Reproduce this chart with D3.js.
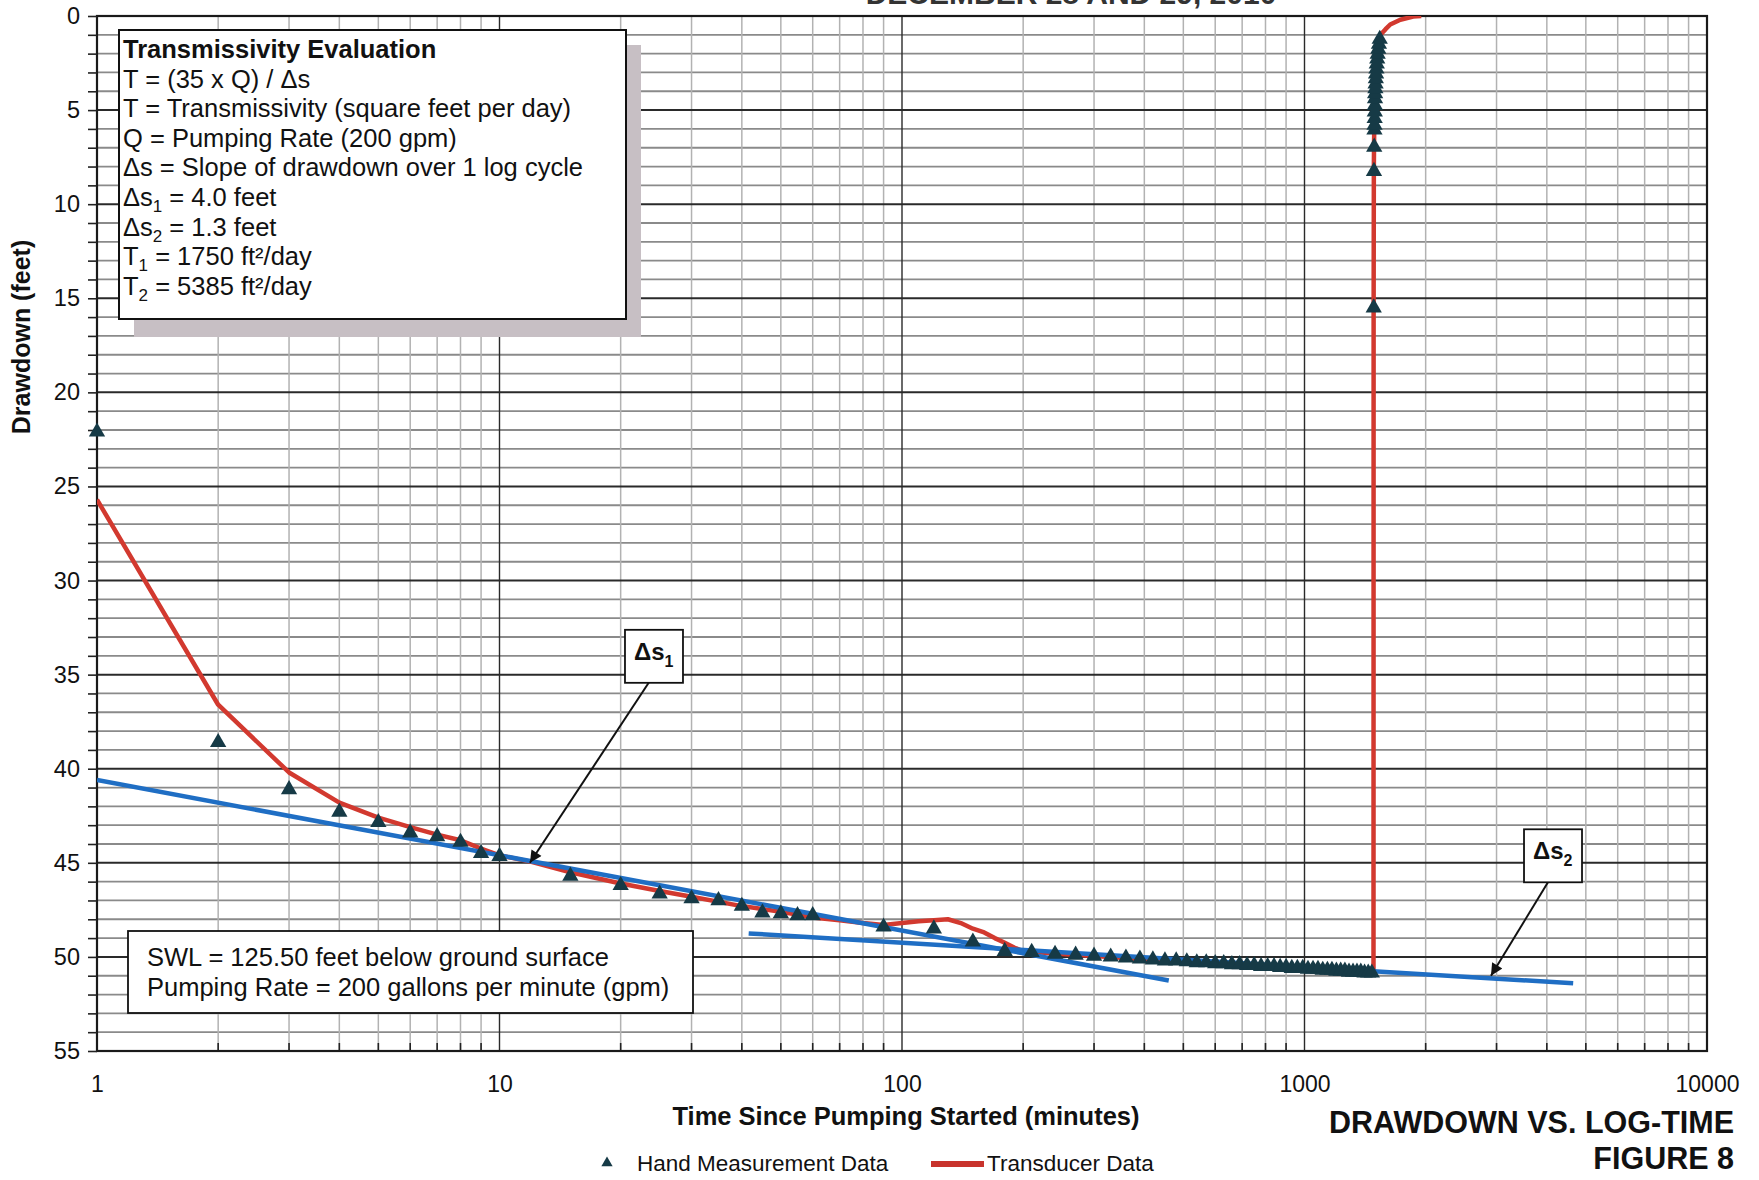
<!DOCTYPE html>
<html>
<head>
<meta charset="utf-8">
<script src="https://cdn.jsdelivr.net/npm/d3@7"></script>
<style>
  body { margin: 0; background: #fff; }
  svg text { font-family: "Liberation Sans", Arial, sans-serif; fill: #111; }
</style>
</head>
<body>
<svg id="chart" width="1759" height="1180"></svg>
<script>
/* Drawdown vs. log-time, semi-log plot drawn with d3 */

// hand measurements: minutes since pumping started, drawdown in feet
const handTime = [1, 2, 3, 4, 5, 6, 7, 8, 9, 10, 15, 20, 25, 30, 35, 40, 45, 50, 55, 60,
  90, 120, 150, 180, 210, 240, 270, 300, 330, 360, 390, 420, 450, 480, 510, 540, 570,
  600, 630, 660, 690, 720, 750, 780, 810, 840, 870, 900, 930, 960, 990, 1020, 1050,
  1080, 1110, 1140, 1170, 1200, 1230, 1260, 1290, 1320, 1350, 1380, 1410, 1440, 1470,
  1486, 1488, 1490, 1492, 1493, 1494, 1495, 1496, 1497, 1498, 1500, 1502, 1504, 1506,
  1509, 1512, 1516, 1520, 1525, 1531, 1538];
const handDrawdown = [22.1, 38.6, 41.1, 42.3, 42.85, 43.4, 43.6, 43.9, 44.5, 44.65, 45.7,
  46.2, 46.65, 46.9, 47.0, 47.3, 47.65, 47.7, 47.8, 47.8,
  48.4, 48.5, 49.2, 49.7, 49.75, 49.85, 49.9, 49.95, 50.0, 50.05, 50.1, 50.15, 50.2,
  50.2, 50.25, 50.3, 50.3, 50.35, 50.35, 50.4, 50.4, 50.45, 50.45, 50.5, 50.5, 50.5,
  50.55, 50.55, 50.6, 50.6, 50.6, 50.65, 50.65, 50.65, 50.7, 50.7, 50.7, 50.75, 50.75,
  50.75, 50.8, 50.8, 50.8, 50.8, 50.85, 50.85, 50.85,
  15.5, 8.25, 6.96, 6.05, 5.79, 5.44, 5.09, 4.74, 4.39, 4.12, 3.86, 3.6, 3.33, 3.07,
  2.81, 2.54, 2.28, 2.02, 1.75, 1.49, 1.23];

// transducer record
const transTime = [1, 2, 3, 4, 5, 6, 7, 8, 9, 10, 12, 15, 20, 25, 30, 40, 50, 60, 70, 80,
  90, 100, 110, 120, 130, 140, 150, 160, 170, 180, 190, 200, 250, 300, 350, 400, 500,
  600, 700, 800, 900, 1000, 1100, 1200, 1300, 1400, 1484, 1485, 1487, 1490, 1500, 1510,
  1525, 1545, 1590, 1633, 1730, 1862, 1950];
const transDrawdown = [25.7, 36.6, 40.2, 41.8, 42.6, 43.1, 43.5, 43.8, 44.25, 44.6, 44.95,
  45.5, 46.1, 46.5, 46.8, 47.3, 47.6, 47.9, 48.05, 48.2, 48.3, 48.2, 48.1, 48.05, 48.0,
  48.2, 48.5, 48.7, 49.0, 49.25, 49.5, 49.7, 49.85, 49.95, 50.05, 50.15, 50.25, 50.35,
  50.4, 50.5, 50.55, 50.6, 50.65, 50.7, 50.75, 50.8, 50.85, 16, 8, 6, 4, 2.8, 1.8, 1.0,
  0.7, 0.45, 0.2, 0.03, 0];

// straight-line fits used for the slope per log cycle
const fit1Time = [1, 460];
const fit1Drawdown = [40.6, 51.25];
const fit2Time = [41.6, 4650];
const fit2Drawdown = [48.75, 51.4];

// axis ticks
const xTicks = [1, 10, 100, 1000, 10000];
const yTicks = [0, 5, 10, 15, 20, 25, 30, 35, 40, 45, 50, 55];

// slope call-outs: box centre and arrow tip in data units
const callouts = [
  { label: "1", boxT: 24.2, boxS: 34.0, tipT: 11.9, tipS: 45.0 },
  { label: "2", boxT: 4144, boxS: 44.6, tipT: 2906, tipS: 51.0 }
];

const svg = d3.select("#chart");
const plot = { left: 97, right: 1707, top: 16, bottom: 1051 };

const x = d3.scaleLog().domain([1, 10000]).range([plot.left, plot.right]);
const y = d3.scaleLinear().domain([0, 55]).range([plot.top, plot.bottom]);

svg.append("defs").append("clipPath").attr("id", "plotClip")
  .append("rect")
  .attr("x", plot.left).attr("y", plot.top)
  .attr("width", plot.right - plot.left).attr("height", plot.bottom - plot.top);

svg.select("defs").append("marker")
  .attr("id", "arrow")
  .attr("viewBox", "0 0 10 10")
  .attr("refX", 10).attr("refY", 5)
  .attr("markerWidth", 15).attr("markerHeight", 12)
  .attr("markerUnits", "userSpaceOnUse")
  .attr("orient", "auto")
  .append("path").attr("d", "M0,0 L10,5 L0,10 z").attr("fill", "#111");

// top title, mostly cut off by the page edge as in the scan
svg.append("text")
  .attr("x", 1071).attr("y", 4)
  .attr("text-anchor", "middle")
  .attr("font-size", 30).attr("font-weight", "bold")
  .style("fill", "#333")
  .text("DECEMBER 28 AND 29, 2010");

// grid
const grid = svg.append("g");
const minorX = [];
[1, 10, 100, 1000].forEach(d => { for (let k = 2; k <= 9; k++) minorX.push(d * k); });

grid.selectAll("line.hminor")
  .data(d3.range(1, 55).filter(v => v % 5 !== 0))
  .join("line")
  .attr("x1", plot.left).attr("x2", plot.right)
  .attr("y1", d => y(d)).attr("y2", d => y(d))
  .attr("stroke", "#8a8a8a").attr("stroke-width", 1.8);

grid.selectAll("line.vminor")
  .data(minorX)
  .join("line")
  .attr("x1", d => x(d)).attr("x2", d => x(d))
  .attr("y1", plot.top).attr("y2", plot.bottom)
  .attr("stroke", "#b2b2b2").attr("stroke-width", 1.5);

grid.selectAll("line.hmajor")
  .data(yTicks.slice(1, -1))
  .join("line")
  .attr("x1", plot.left).attr("x2", plot.right)
  .attr("y1", d => y(d)).attr("y2", d => y(d))
  .attr("stroke", "#2a2a2a").attr("stroke-width", 2);

grid.selectAll("line.vmajor")
  .data(xTicks.slice(1, -1))
  .join("line")
  .attr("x1", d => x(d)).attr("x2", d => x(d))
  .attr("y1", plot.top).attr("y2", plot.bottom)
  .attr("stroke", "#2a2a2a").attr("stroke-width", 1.4);

// minor ticks along the bottom, inside
grid.selectAll("line.xtick")
  .data(minorX)
  .join("line")
  .attr("x1", d => x(d)).attr("x2", d => x(d))
  .attr("y1", plot.bottom - 8).attr("y2", plot.bottom)
  .attr("stroke", "#222").attr("stroke-width", 1.6);

// frame
svg.append("rect")
  .attr("x", plot.left).attr("y", plot.top)
  .attr("width", plot.right - plot.left).attr("height", plot.bottom - plot.top)
  .attr("fill", "none").attr("stroke", "#1a1a1a").attr("stroke-width", 2.2);

// y axis ticks and labels
const yAxis = d3.axisLeft(y)
  .tickValues(d3.range(0, 56))
  .tickSize(9)
  .tickFormat(d => (d % 5 === 0 ? d : ""));
svg.append("g")
  .attr("transform", `translate(${plot.left},0)`)
  .call(yAxis)
  .call(g => g.select(".domain").remove())
  .call(g => g.selectAll(".tick line").attr("stroke", "#222").attr("stroke-width", 1.6))
  .call(g => g.selectAll(".tick text")
    .attr("font-size", 23.5).attr("x", -17)
    .style("font-family", "'Liberation Sans', Arial, sans-serif").style("fill", "#111"));

// x axis labels
const xAxis = d3.axisBottom(x)
  .tickValues(xTicks)
  .tickSize(0)
  .tickFormat(d3.format("d"));
svg.append("g")
  .attr("transform", `translate(0,${plot.bottom})`)
  .call(xAxis)
  .call(g => g.select(".domain").remove())
  .call(g => g.selectAll(".tick text")
    .attr("font-size", 23).attr("y", 25)
    .style("font-family", "'Liberation Sans', Arial, sans-serif").style("fill", "#111"));

// axis titles
svg.append("text")
  .attr("transform", "translate(30,337) rotate(-90)")
  .attr("text-anchor", "middle")
  .attr("font-size", 25).attr("font-weight", "bold")
  .text("Drawdown (feet)");

svg.append("text")
  .attr("x", 906).attr("y", 1125)
  .attr("text-anchor", "middle")
  .attr("font-size", 25.5).attr("font-weight", "bold")
  .text("Time Since Pumping Started (minutes)");

svg.append("text")
  .attr("x", 1734).attr("y", 1133)
  .attr("text-anchor", "end")
  .attr("font-size", 30.5).attr("font-weight", "bold")
  .text("DRAWDOWN VS. LOG-TIME");

svg.append("text")
  .attr("x", 1734).attr("y", 1169)
  .attr("text-anchor", "end")
  .attr("font-size", 30.5).attr("font-weight", "bold")
  .text("FIGURE 8");

// data layer
const layer = svg.append("g").attr("clip-path", "url(#plotClip)");

const transPoints = transTime.map((t, i) => [t, transDrawdown[i]]);
layer.append("path")
  .datum(transPoints)
  .attr("d", d3.line().x(d => x(d[0])).y(d => y(d[1])))
  .attr("fill", "none")
  .attr("stroke", "#d2392f")
  .attr("stroke-width", 4.5)
  .attr("stroke-linejoin", "round");

const handPoints = handTime.map((t, i) => [t, handDrawdown[i]]);
const tri = d3.symbol().type(d3.symbolTriangle).size(115);
svg.append("g").selectAll("path.hand")
  .data(handPoints)
  .join("path")
  .attr("class", "hand")
  .attr("transform", d => `translate(${x(d[0])},${y(d[1])})`)
  .attr("d", tri)
  .attr("fill", "#163a46");

[[fit1Time, fit1Drawdown], [fit2Time, fit2Drawdown]].forEach(([ts, ss]) => {
  layer.append("line")
    .attr("x1", x(ts[0])).attr("y1", y(ss[0]))
    .attr("x2", x(ts[1])).attr("y2", y(ss[1]))
    .attr("stroke", "#1f6ec4")
    .attr("stroke-width", 4.5);
});

// transmissivity box with shadow
svg.append("rect")
  .attr("x", 134).attr("y", 45).attr("width", 507).attr("height", 292)
  .attr("fill", "#c7bfc4");
svg.append("rect")
  .attr("x", 119).attr("y", 30).attr("width", 507).attr("height", 289)
  .attr("fill", "#fff").attr("stroke", "#111").attr("stroke-width", 2);

const evalLines = [
  [["Transmissivity Evaluation", "b"]],
  [["T = (35 x Q) / Δs"]],
  [["T = Transmissivity (square feet per day)"]],
  [["Q = Pumping Rate (200 gpm)"]],
  [["Δs = Slope of drawdown over 1 log cycle"]],
  [["Δs"], ["1", "sub"], [" = 4.0 feet"]],
  [["Δs"], ["2", "sub"], [" = 1.3 feet"]],
  [["T"], ["1", "sub"], [" = 1750 ft²/day"]],
  [["T"], ["2", "sub"], [" = 5385 ft²/day"]]
];
const evalText = svg.append("g");
evalLines.forEach((parts, i) => {
  const t = evalText.append("text")
    .attr("x", 123).attr("y", 58 + i * 29.6)
    .attr("font-size", 25.5);
  parts.forEach(([str, kind]) => {
    const sp = t.append("tspan").text(str);
    if (kind === "b") sp.attr("font-weight", "bold");
    if (kind === "sub") sp.attr("font-size", 17).attr("dy", 6);
    else if (sp.node().previousSibling && parts.length > 1) sp.attr("dy", -6);
  });
});

// SWL box
svg.append("rect")
  .attr("x", 128).attr("y", 931).attr("width", 565).attr("height", 82)
  .attr("fill", "#fff").attr("stroke", "#111").attr("stroke-width", 1.8);
svg.append("text").attr("x", 147).attr("y", 966).attr("font-size", 25.5)
  .text("SWL = 125.50 feet below ground surface");
svg.append("text").attr("x", 147).attr("y", 996).attr("font-size", 25.5)
  .text("Pumping Rate = 200 gallons per minute (gpm)");

// slope call-outs
callouts.forEach(c => {
  const cx = x(c.boxT), cy = y(c.boxS);
  svg.append("line")
    .attr("x1", cx - 2).attr("y1", cy + 22)
    .attr("x2", x(c.tipT)).attr("y2", y(c.tipS))
    .attr("stroke", "#111").attr("stroke-width", 2)
    .attr("marker-end", "url(#arrow)");
  svg.append("rect")
    .attr("x", cx - 29).attr("y", cy - 26).attr("width", 58).attr("height", 53)
    .attr("fill", "#fff").attr("stroke", "#111").attr("stroke-width", 1.8);
  const t = svg.append("text")
    .attr("x", cx - 20).attr("y", cy + 4)
    .attr("font-size", 24).attr("font-weight", "bold");
  t.append("tspan").text("Δs");
  t.append("tspan").text(c.label).attr("font-size", 16).attr("dy", 7);
});

// legend
svg.append("path")
  .attr("transform", "translate(607,1163)")
  .attr("d", d3.symbol().type(d3.symbolTriangle).size(55))
  .attr("fill", "#163a46");
svg.append("text").attr("x", 637).attr("y", 1171).attr("font-size", 22.5)
  .text("Hand Measurement Data");
svg.append("line")
  .attr("x1", 931).attr("x2", 984).attr("y1", 1164).attr("y2", 1164)
  .attr("stroke", "#c8332c").attr("stroke-width", 6);
svg.append("text").attr("x", 987).attr("y", 1171).attr("font-size", 22.5)
  .text("Transducer Data");
</script>
</body>
</html>
